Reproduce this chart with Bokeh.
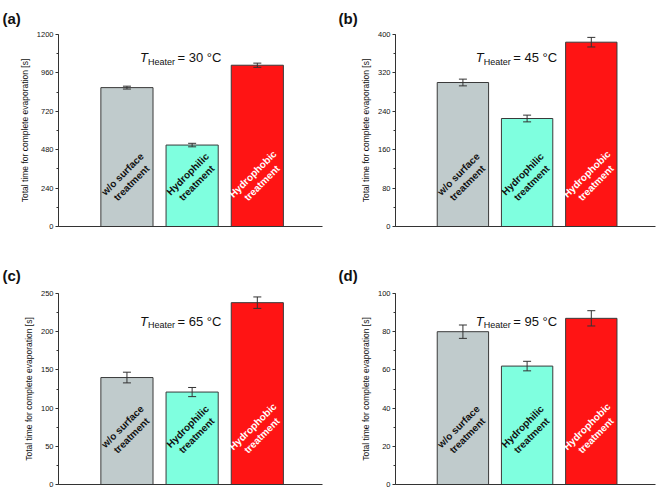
import numpy as np
from bokeh.plotting import figure
from bokeh.models import (Range1d, SingleIntervalTicker, FixedTicker, Label, Whisker,
                          TeeHead, ColumnDataSource)
from bokeh.layouts import column, row
from bokeh.embed import file_html
from bokeh.resources import INLINE
from bokeh.core.properties import value

# ---------------- data ----------------
categories = ["w/o surface\ntreatment", "Hydrophilic\ntreatment", "Hydrophobic\ntreatment"]
bar_colors = ["#C0CBCC", "#7FFFDF", "#FF1414"]
label_colors = ["#111111", "#111111", "#FFFFFF"]

panel_labels = ["(a)", "(b)", "(c)", "(d)"]
heater_temps = ["30", "45", "65", "95"]

times_30 = [868, 509, 1008]
err_30 = [9, 11, 13]
times_45 = [300, 225, 384]
err_45 = [7, 7, 10]
times_65 = [140, 121, 238]
err_65 = [7, 6, 7.5]
times_95 = [80, 62, 87]
err_95 = [3.5, 2.5, 4]

y_max = [1200, 400, 250, 100]
y_step = [240, 80, 50, 20]
y_title = "Total time for complete evaporation [s]"

FONT = "Liberation Sans"
AX = "#333333"
X0, X1 = -0.05, 4.0


def make_panel(idx, values, errors, width, height, left, right, top, bottom,
               t_frac, lab_frac, plab_fx, plab_gap):
    ymax = y_max[idx]
    n = len(categories)
    p = figure(width=width, height=height, output_backend="svg", toolbar_location=None,
               x_range=Range1d(X0, X1), y_range=Range1d(0, ymax),
               min_border_left=left, min_border_right=right,
               min_border_top=top, min_border_bottom=bottom)
    p.outline_line_color = None
    p.grid.visible = False
    p.background_fill_color = "white"

    # panel label as a left-aligned title shifted into the left margin
    p.title.text = panel_labels[idx]
    p.title.align = "left"
    p.title.offset = plab_fx - left
    p.title.standoff = plab_gap
    p.title.text_font = FONT
    p.title.text_font_style = "bold"
    p.title.text_font_size = "15px"
    p.title.text_color = "#111111"

    xs = list(range(1, n + 1))
    src = ColumnDataSource(dict(
        x=xs, top=values, color=bar_colors, label=categories, lc=label_colors,
        upper=[v + e for v, e in zip(values, errors)],
        lower=[v - e for v, e in zip(values, errors)],
        ly=[lab_frac * ymax] * n))

    p.vbar(x="x", top="top", bottom=0, width=0.8, fill_color="color",
           line_color="#3A3A3A", line_width=1, source=src)

    wk = Whisker(source=src, base="x", upper="upper", lower="lower",
                 line_color=AX, line_width=1, level="overlay",
                 upper_head=TeeHead(size=8, line_color=AX, line_width=1),
                 lower_head=TeeHead(size=8, line_color=AX, line_width=1))
    p.add_layout(wk)

    p.text(x="x", y="ly", text="label", angle=np.pi / 4, text_align="center",
           text_baseline="middle", text_font=value(FONT), text_font_style="bold",
           text_font_size="10px", text_color="lc", text_line_height=1.15, source=src)

    # T_Heater annotation
    ty = t_frac * ymax
    p.add_layout(Label(x=1.2, y=ty, text="T", text_font=FONT, text_font_style="italic",
                       text_font_size="13px", text_align="left", text_baseline="alphabetic",
                       text_color="#111111"))
    p.add_layout(Label(x=1.2, y=ty, x_offset=8, y_offset=-4, text="Heater", text_font=FONT,
                       text_font_size="9px", text_align="left", text_baseline="alphabetic",
                       text_color="#111111"))
    p.add_layout(Label(x=1.2, y=ty, x_offset=37.5, text="= " + heater_temps[idx] + " °C",
                       text_font=FONT, text_font_size="13px", text_align="left",
                       text_baseline="alphabetic", text_color="#111111"))

    # y axis
    ya = p.yaxis[0]
    ya.ticker = SingleIntervalTicker(interval=y_step[idx], num_minor_ticks=2)
    ya.axis_label = y_title
    ya.axis_label_text_font = FONT
    ya.axis_label_text_font_style = "normal"
    ya.axis_label_text_font_size = "8.5px"
    ya.axis_label_text_color = "#111111"
    ya.axis_label_standoff = 4
    ya.major_label_text_font = FONT
    ya.major_label_text_font_size = "7.5px"
    ya.major_label_text_color = "#111111"
    ya.major_label_standoff = 2
    ya.major_tick_out = 3
    ya.major_tick_in = 0
    ya.minor_tick_out = 2
    ya.minor_tick_in = 0
    ya.axis_line_color = AX
    ya.major_tick_line_color = AX
    ya.minor_tick_line_color = AX

    # x axis (line only)
    xa = p.xaxis[0]
    xa.ticker = FixedTicker(ticks=[])
    xa.major_label_text_font_size = "0px"
    xa.major_label_standoff = 0
    xa.major_tick_out = 0
    xa.major_tick_in = 0
    xa.minor_tick_out = 0
    xa.minor_tick_in = 0
    xa.axis_line_color = AX
    return p


# row 1: frame from y=34 to 226 ; row 2 frame from y=293 to 484
pa = make_panel(0, times_30, err_30, 330, 245, 58, 8, 34, 19, 0.88, 0.25, 2, 15)
pb = make_panel(1, times_45, err_45, 330, 245, 65, 5, 34, 19, 0.88, 0.25, 8, 15)
pc = make_panel(2, times_65, err_65, 330, 244, 58, 8, 48, 5, 0.855, 0.28, 2, 20)
pd = make_panel(3, times_95, err_95, 330, 244, 65, 5, 48, 5, 0.855, 0.28, 8, 20)

layout = column(row(pa, pb), row(pc, pd))
open("out.html", "w").write(file_html(layout, INLINE))
